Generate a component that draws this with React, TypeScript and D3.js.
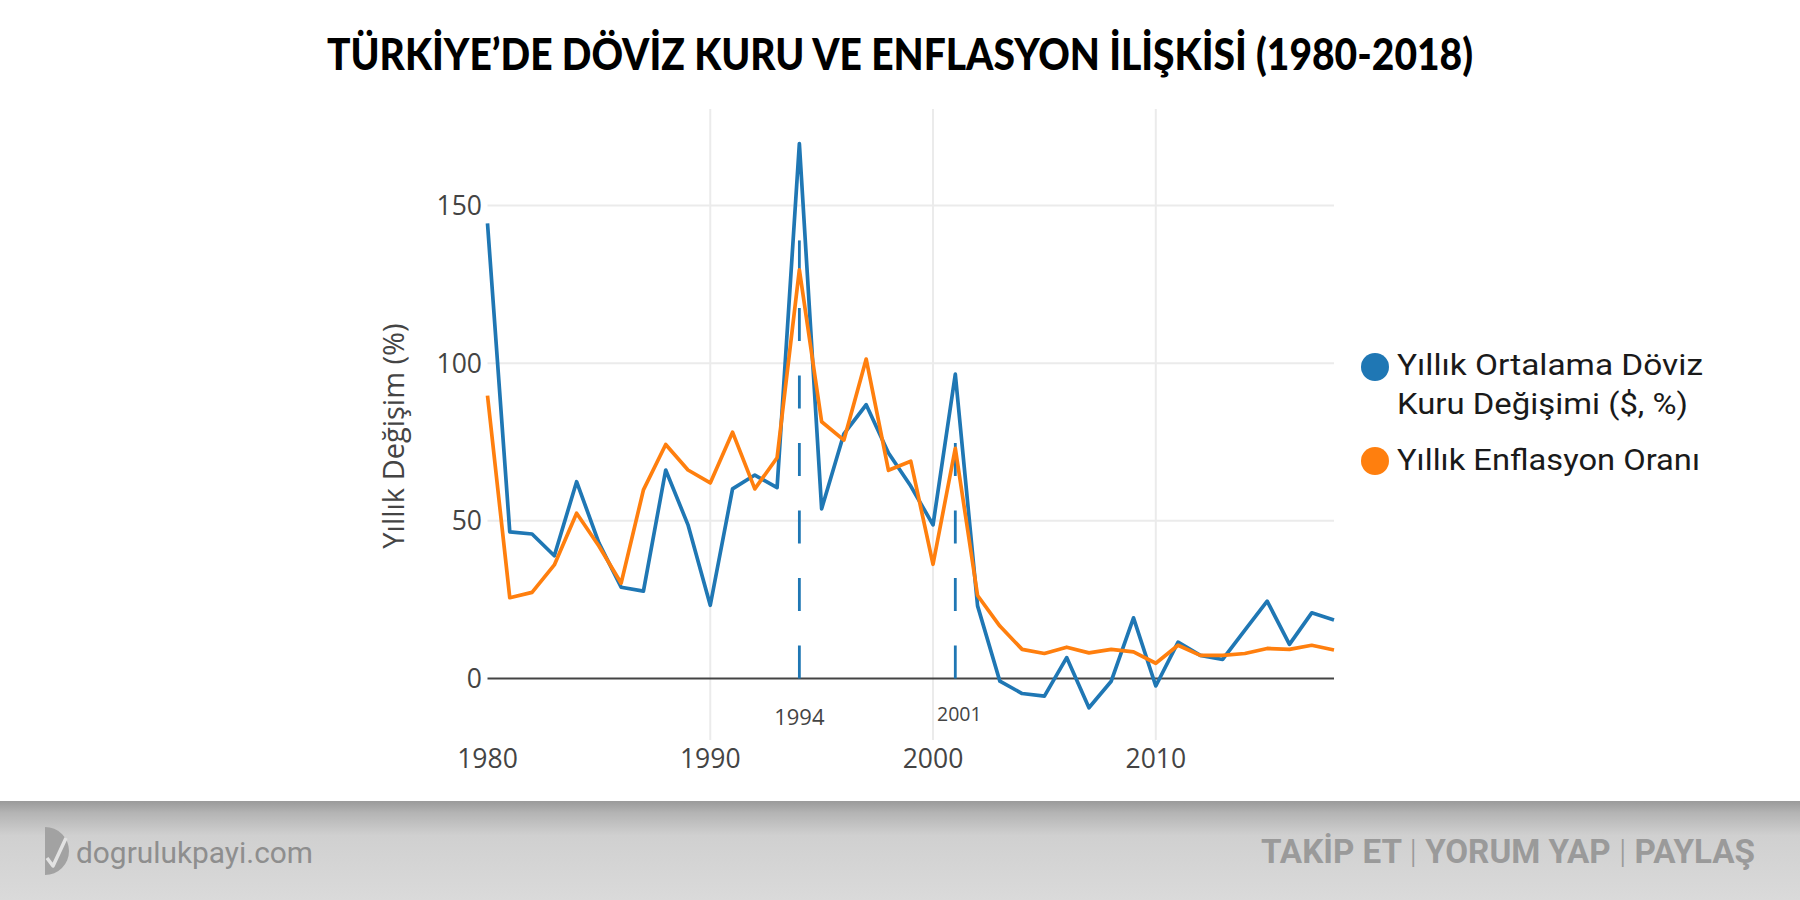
import React from "react";
import * as d3 from "d3";

const years: number[] = d3.range(1980, 2019);

const exchangeChange: number[] = [
  144.3, 46.5, 45.8, 38.9, 62.4, 43, 28.9, 27.7, 66.1, 48.7,
  23.2, 60.1, 64.5, 60.5, 169.6, 53.8, 77.6, 86.8, 71.5, 61,
  48.7, 96.5, 23, -0.9, -4.8, -5.6, 6.6, -9.3, -0.9, 19.2,
  -2.4, 11.5, 7.3, 6.0, 15.3, 24.5, 10.8, 20.8, 18.5,
];

const inflation: number[] = [
  89.7, 25.6, 27.3, 36, 52.4, 42, 30.2, 59.8, 74.2, 66.1,
  62, 78.1, 60.1, 70, 129.6, 81.4, 75.6, 101.3, 66, 68.9,
  36.2, 73, 26.3, 16.6, 9.2, 7.9, 9.9, 8.1, 9.2, 8.4,
  4.8, 10.5, 7.3, 7.3, 7.9, 9.5, 9.2, 10.5, 9.0,
];

const crisisYears: number[] = [1994, 2001];
const crisisTops: number[] = [140, 75];
const crisisLabels: string[] = ["1994", "2001"];

const yTicks: number[] = [0, 50, 100, 150];
const xTicks: number[] = [1980, 1990, 2000, 2010];

const seriesNames: string[][] = [
  ["Yıllık Ortalama Döviz", "Kuru Değişimi ($, %)"],
  ["Yıllık Enflasyon Oranı"],
];

const TITLE = "TÜRKİYE’DE DÖVİZ KURU VE ENFLASYON İLİŞKİSİ (1980-2018)";
const Y_TITLE = "Yıllık Değişim (%)";

const BLUE = "#1f77b4";
const ORANGE = "#ff7f0e";

export default function App() {
  const W = 1800;
  const H = 900;
  const x = d3.scaleLinear().domain([1980, 2018]).range([487.5, 1334]);
  const y = d3.scaleLinear().domain([0, 150]).range([678.4, 205.5]);
  const yTop = 180.6;
  const yBottom = -19.5;

  const line = d3
    .line<number>()
    .x((_, i) => x(years[i]))
    .y((d) => y(d));

  const tickFont = "'Open Sans', sans-serif";
  const legendFont = "Roboto, 'Noto Sans', sans-serif";

  return (
    <svg
      width={W}
      height={H}
      viewBox={`0 0 ${W} ${H}`}
      style={{ position: "fixed", left: 0, top: 0, background: "#fff" }}
    >
      <defs>
        <linearGradient id="footerGrad" x1="0" y1="0" x2="0" y2="1">
          <stop offset="0" stopColor="#9a9a9a" />
          <stop offset="0.12" stopColor="#b4b4b4" />
          <stop offset="0.35" stopColor="#d0d0d0" />
          <stop offset="1" stopColor="#dadada" />
        </linearGradient>
      </defs>
      <rect x={0} y={0} width={W} height={H} fill="#fff" />

      {/* Title */}
      <text
        x={900}
        y={70}
        textAnchor="middle"
        fontFamily="Lato, 'Noto Sans', sans-serif"
        fontWeight={900}
        fontSize={44}
        fill="#000"
        textLength={1146}
        lengthAdjust="spacingAndGlyphs"
      >
        {TITLE}
      </text>

      {/* Gridlines */}
      {yTicks
        .filter((t) => t !== 0)
        .map((t) => (
          <line
            key={"gy" + t}
            x1={x(1980)}
            x2={x(2018)}
            y1={y(t)}
            y2={y(t)}
            stroke="#ebebeb"
            strokeWidth={2}
          />
        ))}
      {xTicks
        .filter((t) => t !== 1980)
        .map((t) => (
          <line
            key={"gx" + t}
            x1={x(t)}
            x2={x(t)}
            y1={y(yTop)}
            y2={y(yBottom)}
            stroke="#ebebeb"
            strokeWidth={2}
          />
        ))}

      {/* Zero line */}
      <line
        x1={x(1980)}
        x2={x(2018)}
        y1={y(0)}
        y2={y(0)}
        stroke="#444"
        strokeWidth={2}
      />

      {/* Crisis dashed lines */}
      {crisisYears.map((yr, i) => (
        <path
          key={"cl" + yr}
          d={`M${x(yr)},${y(0)}L${x(yr)},${y(crisisTops[i])}`}
          stroke={BLUE}
          strokeWidth={2.8}
          strokeDasharray="33,34.5"
          fill="none"
        />
      ))}

      {/* Series */}
      <path
        d={line(exchangeChange) || ""}
        fill="none"
        stroke={BLUE}
        strokeWidth={3.7}
        strokeLinejoin="round"
      />
      <path
        d={line(inflation) || ""}
        fill="none"
        stroke={ORANGE}
        strokeWidth={3.7}
        strokeLinejoin="round"
      />

      {/* Crisis labels */}
      <text
        x={x(crisisYears[0])}
        y={725}
        textAnchor="middle"
        fontFamily={tickFont}
        fontSize={22}
        fill="#444"
      >
        {crisisLabels[0]}
      </text>
      <text
        x={x(crisisYears[1]) + 4}
        y={721}
        textAnchor="middle"
        fontFamily={tickFont}
        fontSize={19.5}
        fill="#444"
      >
        {crisisLabels[1]}
      </text>

      {/* Y ticks */}
      {yTicks.map((t) => (
        <text
          key={"yt" + t}
          x={482}
          y={y(t)}
          dy="0.36em"
          textAnchor="end"
          fontFamily={tickFont}
          fontSize={26.5}
          fill="#444"
        >
          {t}
        </text>
      ))}

      {/* X ticks */}
      {xTicks.map((t) => (
        <text
          key={"xt" + t}
          x={x(t)}
          y={768}
          textAnchor="middle"
          fontFamily={tickFont}
          fontSize={26.5}
          fill="#444"
        >
          {t}
        </text>
      ))}

      {/* Y title */}
      <text
        transform={`translate(404,436) rotate(-90)`}
        textAnchor="middle"
        fontFamily={tickFont}
        fontSize={29}
        fill="#444"
      >
        {Y_TITLE}
      </text>

      {/* Legend */}
      <circle cx={1375} cy={367} r={14} fill={BLUE} />
      <text
        x={1397}
        y={375}
        fontFamily={legendFont}
        fontSize={29}
        fill="#1a1a1a"
        textLength={306}
        lengthAdjust="spacingAndGlyphs"
      >
        {seriesNames[0][0]}
      </text>
      <text
        x={1397}
        y={413.5}
        fontFamily={legendFont}
        fontSize={29}
        fill="#1a1a1a"
        textLength={291}
        lengthAdjust="spacingAndGlyphs"
      >
        {seriesNames[0][1]}
      </text>
      <circle cx={1375} cy={461} r={14} fill={ORANGE} />
      <text
        x={1397}
        y={470}
        fontFamily={legendFont}
        fontSize={29}
        fill="#1a1a1a"
        textLength={303}
        lengthAdjust="spacingAndGlyphs"
      >
        {seriesNames[1][0]}
      </text>

      {/* Footer */}
      <rect x={0} y={801} width={W} height={99} fill="url(#footerGrad)" />
      <path d="M45,827 A24,24 0 0 1 45,875 Z" fill="#a2a2a2" />
      <path
        d="M47,858 L53,866 L66,838"
        stroke="#e2e2e2"
        strokeWidth={3.5}
        fill="none"
        strokeLinejoin="round"
      />
      <text
        x={76}
        y={863}
        fontFamily={legendFont}
        fontSize={30}
        fill="#8e8e8e"
        textLength={237}
        lengthAdjust="spacingAndGlyphs"
      >
        dogrulukpayi.com
      </text>
      <text
        x={1261}
        y={863}
        fontFamily={legendFont}
        fontWeight={700}
        fontSize={33}
        fill="#9a9a9a"
        textLength={494}
        lengthAdjust="spacingAndGlyphs"
      >
        <tspan>TAKİP ET </tspan>
        <tspan fontWeight={300}>|</tspan>
        <tspan> YORUM YAP </tspan>
        <tspan fontWeight={300}>|</tspan>
        <tspan> PAYLAŞ</tspan>
      </text>
    </svg>
  );
}
